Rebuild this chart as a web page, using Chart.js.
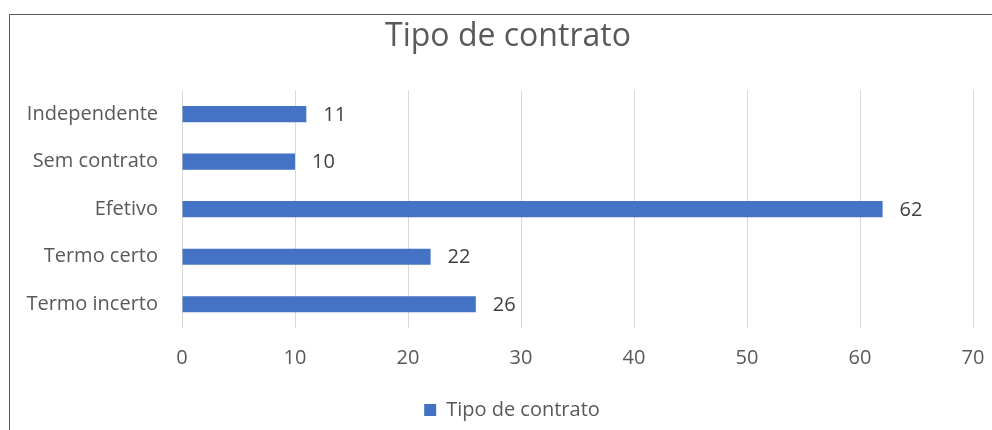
<!DOCTYPE html>
<html>
<head>
<meta charset="utf-8">
<script src="https://cdn.jsdelivr.net/npm/chart.js@4"></script>
<style>
  html, body { margin: 0; padding: 0; background: #fff; overflow: hidden; }
  #frame { position: absolute; left: 9px; top: 14px; width: 1100px; height: 500px; border: 1px solid #595959; }
  #wrap { position: absolute; left: 0; top: 0; width: 1016px; height: 430px; }
</style>
</head>
<body>
<div id="frame"></div>
<div id="wrap"><canvas id="chart"></canvas></div>
<script>
const categories = ['Independente', 'Sem contrato', 'Efetivo', 'Termo certo', 'Termo incerto'];
const values = [11, 10, 62, 22, 26];
const seriesName = 'Tipo de contrato';
const xTicks = [0, 10, 20, 30, 40, 50, 60, 70];

const fontFamily = '"Open Sans", sans-serif';

// draw the value next to each bar
const barLabels = {
    id: 'barLabels',
    afterDatasetsDraw(chart) {
        const ctx = chart.ctx;
        const meta = chart.getDatasetMeta(0);
        ctx.save();
        ctx.font = `20px ${fontFamily}`;
        ctx.fillStyle = '#404040';
        ctx.textBaseline = 'middle';
        ctx.textAlign = 'left';
        meta.data.forEach((bar, i) => {
            ctx.fillText(values[i], bar.x + 17, bar.y + 1);
        });
        ctx.restore();
    }
};

// title and legend sit centred on the whole frame, not on the plot
const shiftBlocks = {
    id: 'shiftBlocks',
    afterLayout(chart) {
        chart.titleBlock.left += 11;
        chart.titleBlock.right += 11;
        chart.legend.left += 15;
        chart.legend.right += 15;
    }
};

const chart = new Chart(document.querySelector('#chart').getContext('2d'), {
    type: 'bar',
    data: {
        labels: categories,
        datasets: [{
            label: seriesName,
            data: values,
            backgroundColor: '#4472c4',
            borderWidth: 0,
            barPercentage: 0.34,
            categoryPercentage: 1
        }]
    },
    options: {
        indexAxis: 'y',
        responsive: true,
        maintainAspectRatio: false,
        animation: false,
        layout: { padding: { left: 21, right: 43, top: 4, bottom: 0 } },
        scales: {
            x: {
                min: 0,
                max: 70,
                afterBuildTicks: axis => { axis.ticks = xTicks.map(v => ({ value: v })); },
                grid: { color: '#d9d9d9', lineWidth: 1, drawTicks: false },
                border: { display: false },
                ticks: { color: '#595959', font: { size: 20, family: fontFamily }, padding: 18 }
            },
            y: {
                afterFit: axis => { axis.width = 161; },
                grid: { display: false },
                border: { display: false },
                ticks: { color: '#595959', font: { size: 20, family: fontFamily }, padding: 16 }
            }
        },
        plugins: {
            title: {
                display: true,
                text: 'Tipo de contrato',
                color: '#595959',
                font: { size: 32, family: fontFamily, weight: 'normal' },
                padding: { top: 14, bottom: 34 }
            },
            legend: {
                position: 'bottom',
                labels: {
                    color: '#595959',
                    font: { size: 20, family: fontFamily },
                    boxWidth: 12,
                    boxHeight: 12,
                    padding: 12
                }
            },
            tooltip: { enabled: false }
        }
    },
    plugins: [barLabels, shiftBlocks]
});
</script>
</body>
</html>
